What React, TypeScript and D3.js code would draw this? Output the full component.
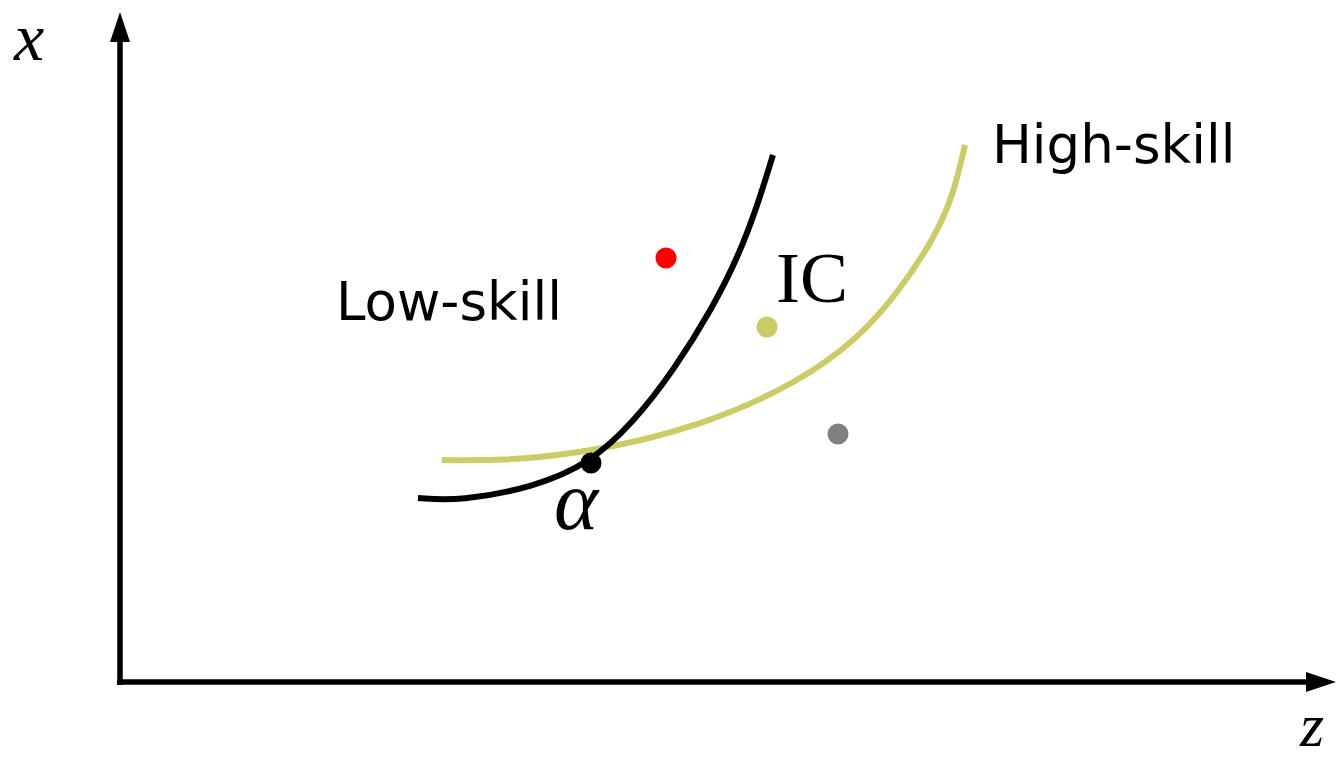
import React from "react";
import * as d3 from "d3";

// Data in chart units: z (horizontal), x (vertical)
const lowSkillZ = [298, 340, 415, 470, 513, 554, 593, 618, 637, 653];
const lowSkillX = [184, 181, 195, 219, 259, 312, 375, 425, 475, 527];

const highSkillZ = [322, 380, 467, 580, 680, 740, 780, 813, 833, 845];
const highSkillX = [222, 221, 229, 255, 300, 345, 392, 442, 485, 537];

const pointNames = ["alpha", "red", "yellow", "gray"];
const pointZ = [471, 546, 647, 718];
const pointX = [219, 424, 355, 248];
const pointColors = ["#000000", "#ff0000", "#cccc66", "#808080"];

const W = 1336;
const H = 760;

export default function App() {
  const sx = d3.scaleLinear().domain([0, 1200]).range([120, 1320]);
  const sy = d3.scaleLinear().domain([0, 670]).range([682, 12]);

  const line = d3
    .line<[number, number]>()
    .x((d) => sx(d[0]))
    .y((d) => sy(d[1]))
    .curve(d3.curveBasis);

  const low: [number, number][] = lowSkillZ.map((z, i) => [z, lowSkillX[i]]);
  const high: [number, number][] = highSkillZ.map((z, i) => [z, highSkillX[i]]);

  const x0 = sx(0);
  const y0 = sy(0);
  const yTop = sy(670);
  const xEnd = W;

  return (
    <svg
      width={W}
      height={H}
      style={{ position: "absolute", left: 0, top: 0, background: "#fff" }}
    >
      {/* axes */}
      <line x1={x0} y1={y0 + 3} x2={x0} y2={yTop + 26} stroke="#000" strokeWidth={5.5} />
      <path d={`M${x0},${yTop} L${x0 - 10},${yTop + 30} L${x0 + 10},${yTop + 30} Z`} fill="#000" />
      <line x1={x0 - 3} y1={y0} x2={xEnd - 26} y2={y0} stroke="#000" strokeWidth={5.5} />
      <path d={`M${xEnd},${y0} L${xEnd - 30},${y0 - 10} L${xEnd - 30},${y0 + 10} Z`} fill="#000" />

      {/* curves */}
      <path d={line(high) || ""} fill="none" stroke="#cccc66" strokeWidth={6} />
      <path d={line(low) || ""} fill="none" stroke="#000" strokeWidth={6} />

      {/* points */}
      {pointNames.map((n, i) => (
        <circle key={n} cx={sx(pointZ[i])} cy={sy(pointX[i])} r={10.5} fill={pointColors[i]} />
      ))}

      {/* labels */}
      <text x={14} y={60} fontFamily="Liberation Serif" fontStyle="italic" fontSize={68}>x</text>
      <text x={1300} y={746} fontFamily="Liberation Serif" fontStyle="italic" fontSize={62}>z</text>
      <text x={554} y={529} fontFamily="Liberation Serif" fontStyle="italic" fontSize={84}>α</text>
      <text x={776} y={302} fontFamily="Liberation Serif" fontSize={72}>IC</text>
      <text x={336} y={320} fontFamily="DejaVu Sans" fontSize={53}>Low-skill</text>
      <text x={992} y={163} fontFamily="DejaVu Sans" fontSize={53}>High-skill</text>
    </svg>
  );
}
